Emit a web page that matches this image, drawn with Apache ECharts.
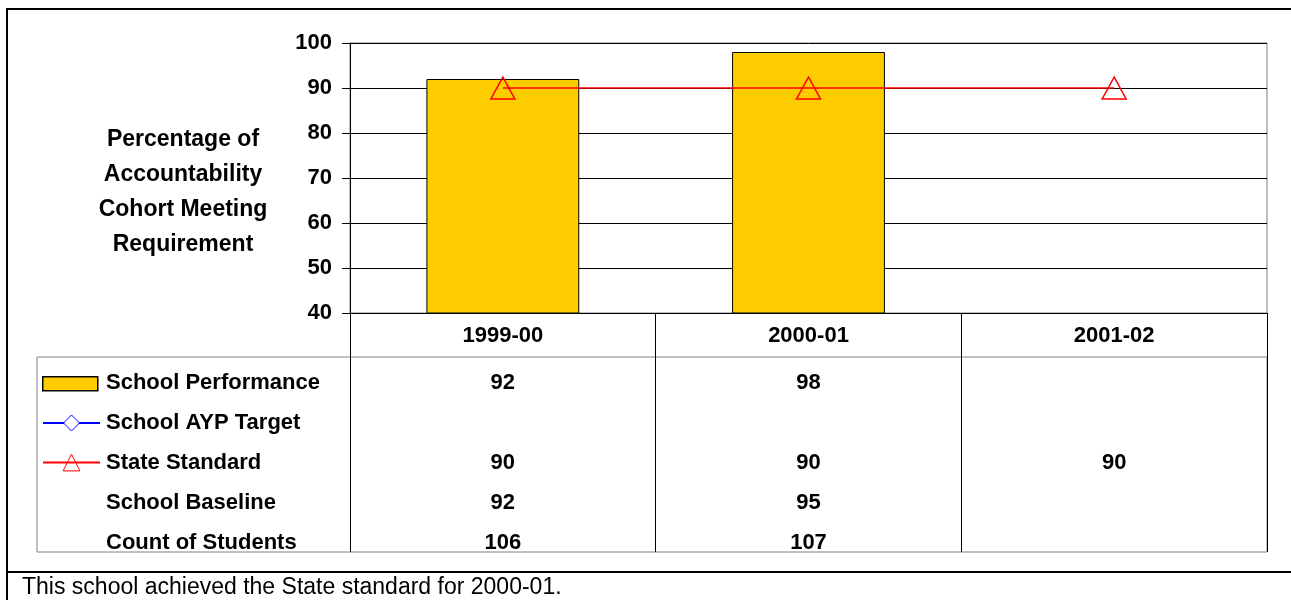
<!DOCTYPE html>
<html>
<head>
<meta charset="utf-8">
<script src="https://cdn.jsdelivr.net/npm/echarts@6/dist/echarts.min.js"></script>
<style>
  html, body { margin: 0; padding: 0; background: #fff; }
  #chart { width: 1291px; height: 600px; }
</style>
</head>
<body>
<div id="chart"></div>
<script>
(function () {
    // data
    var years = ['1999-00', '2000-01', '2001-02'];
    var schoolPerformance = [92, 98, null];
    var aypTarget = [null, null, null];
    var stateStandard = [90, 90, 90];
    var schoolBaseline = [92, 95, null];
    var studentCount = [106, 107, null];
    var rowNames = ['School Performance', 'School AYP Target', 'State Standard', 'School Baseline', 'Count of Students'];
    var yMin = 40, yMax = 100, yStep = 10;
    var yTitle = 'Percentage of\nAccountability\nCohort Meeting\nRequirement';
    var footNote = 'This school achieved the State standard for 2000-01.';

    var FONT = '"Liberation Sans", Arial, sans-serif';
    var box = document.getElementById('chart');
    var myChart = echarts.init(box);

    // table cells: [column, row, value]
    var tableRows = [schoolPerformance, aypTarget, stateStandard, schoolBaseline, studentCount];
    var cells = [];
    tableRows.forEach(function (row, r) {
        row.forEach(function (v, c) {
            if (v !== null && v !== undefined) cells.push([c, r, v]);
        });
    });

    var boldText = { color: '#000', fontFamily: FONT, fontWeight: 'bold', fontSize: 22 };

    var option = {
        animation: false,
        textStyle: { fontFamily: FONT },
        grid: [
            {   // chart area
                left: 350, top: 43, width: 917, height: 270,
                show: true, borderColor: '#808080', borderWidth: 1
            },
            {   // data table rows
                left: 350, top: 383, width: 917, height: 160
            }
        ],
        legend: [
            {
                data: ['School Performance'], left: 42, top: 376, padding: 0,
                itemWidth: 55, itemHeight: 14, selectedMode: false,
                icon: 'rect', formatter: function () { return ''; },
                textStyle: { fontSize: 8 },
                itemStyle: { borderColor: '#000', borderWidth: 1.5 }
            },
            {
                data: ['School AYP Target'], left: 42, top: 413, padding: 0,
                itemWidth: 57, itemHeight: 20, selectedMode: false,
                formatter: function () { return ''; },
                textStyle: { fontSize: 8 },
                itemStyle: { borderWidth: 1 }
            },
            {
                data: ['State Standard'], left: 42, top: 452, padding: 0,
                itemWidth: 57, itemHeight: 21, selectedMode: false,
                formatter: function () { return ''; },
                textStyle: { fontSize: 8 },
                itemStyle: { borderWidth: 1 }
            }
        ],
        xAxis: [
            {
                type: 'category', gridIndex: 0, data: years,
                axisLine: { lineStyle: { color: '#000', width: 1 } },
                axisTick: { show: true, length: 239, lineStyle: { color: '#000', width: 1 } },   // table column lines
                axisLabel: Object.assign({ margin: 12 }, boldText),
                splitLine: { show: false }
            },
            {
                type: 'category', gridIndex: 1, data: years, show: false
            }
        ],
        yAxis: [
            {
                type: 'value', gridIndex: 0, min: yMin, max: yMax, interval: yStep,
                axisLine: { show: true, lineStyle: { color: '#000', width: 1 } },
                axisTick: { show: true, length: 8, lineStyle: { color: '#000' } },
                axisLabel: Object.assign({ margin: 18 }, boldText),
                splitLine: { show: true, lineStyle: { color: '#000', width: 1 } }
            },
            {
                type: 'category', gridIndex: 1, data: rowNames, inverse: true, boundaryGap: false,
                axisLine: { show: false }, axisTick: { show: false }, splitLine: { show: false },
                axisLabel: Object.assign({ margin: 244, align: 'left' }, boldText)
            }
        ],
        series: [
            {
                name: 'School Performance', type: 'bar',
                xAxisIndex: 0, yAxisIndex: 0,
                barWidth: '50%',
                data: schoolPerformance,
                itemStyle: { color: '#FFCC00', borderColor: '#000', borderWidth: 1 }
            },
            {
                name: 'School AYP Target', type: 'line',
                xAxisIndex: 0, yAxisIndex: 0,
                data: aypTarget,
                symbol: 'diamond', symbolSize: 14,
                itemStyle: { color: '#fff', borderColor: '#0000FF', borderWidth: 1 },
                lineStyle: { color: '#0000FF', width: 1 }
            },
            {
                name: 'State Standard', type: 'line',
                xAxisIndex: 0, yAxisIndex: 0,
                data: stateStandard,
                symbol: 'triangle', symbolSize: [24, 22],
                itemStyle: { color: 'rgba(255,255,255,0)', borderColor: '#FF0000', borderWidth: 1.5 },
                lineStyle: { color: '#FF0000', width: 1.5 },
                z: 5
            },
            {
                name: 'table', type: 'scatter',
                xAxisIndex: 1, yAxisIndex: 1,
                data: cells,
                symbolSize: 1,
                itemStyle: { color: 'rgba(0,0,0,0)', opacity: 1 },
                label: {
                    show: true, position: 'inside',
                    formatter: function (p) { return p.data[2]; },
                    color: '#000', opacity: 1,
                    fontFamily: FONT, fontWeight: 'bold', fontSize: 22
                },
                silent: true
            }
        ],
        graphic: [
            // y axis title
            { type: 'text', x: 183, y: 192, z: 10,
              style: { text: yTitle, align: 'center', verticalAlign: 'middle', lineHeight: 35,
                       fill: '#000', font: 'bold 23px ' + FONT } },
            // table outline
            { type: 'rect', shape: { x: 37, y: 357, width: 1230, height: 195 },
              style: { fill: null, stroke: '#808080', lineWidth: 1 }, z: 0 },
            // outer frame
            { type: 'line', shape: { x1: 6, y1: 9, x2: 1291, y2: 9 }, style: { stroke: '#000', lineWidth: 2 } },
            { type: 'line', shape: { x1: 7, y1: 8, x2: 7, y2: 600 }, style: { stroke: '#000', lineWidth: 2 } },
            { type: 'line', shape: { x1: 6, y1: 572, x2: 1291, y2: 572 }, style: { stroke: '#000', lineWidth: 2 } },
            { type: 'text', left: 22, top: 576,
              style: { text: footNote, fill: '#000', font: '23px ' + FONT } }
        ]
    };
    myChart.setOption(option);
})();
</script>
</body>
</html>
